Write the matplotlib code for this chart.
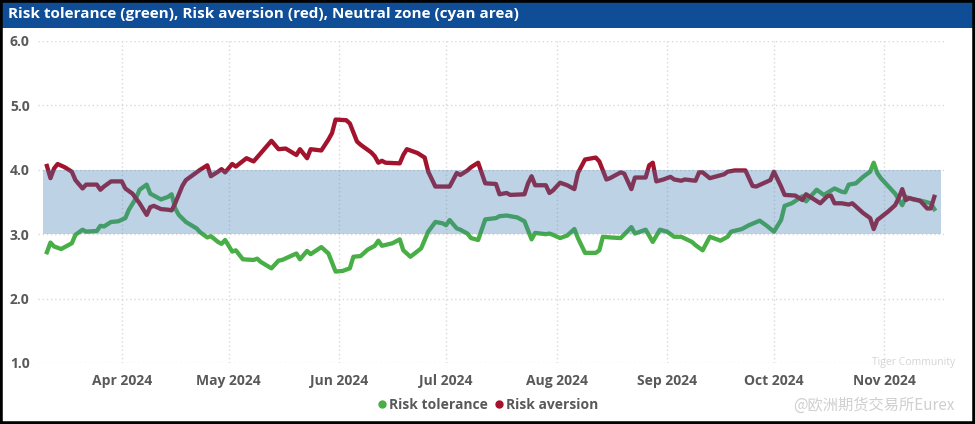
import matplotlib.pyplot as plt
import matplotlib.dates as mdates
from matplotlib.lines import Line2D
from matplotlib.patches import Rectangle
import pandas as pd

# risk tolerance (green line)
tol_dates = ["2024-03-11", "2024-03-12", "2024-03-13", "2024-03-15", "2024-03-18", "2024-03-19",
             "2024-03-21", "2024-03-22", "2024-03-25", "2024-03-26", "2024-03-27", "2024-03-29",
             "2024-03-31", "2024-04-02", "2024-04-03", "2024-04-05", "2024-04-06", "2024-04-08",
             "2024-04-09", "2024-04-12", "2024-04-14", "2024-04-15", "2024-04-16", "2024-04-17",
             "2024-04-19", "2024-04-22", "2024-04-23", "2024-04-25", "2024-04-26", "2024-04-28",
             "2024-04-29", "2024-04-30", "2024-05-02", "2024-05-03", "2024-05-05", "2024-05-08",
             "2024-05-09", "2024-05-10", "2024-05-13", "2024-05-15", "2024-05-16", "2024-05-20",
             "2024-05-21", "2024-05-23", "2024-05-24", "2024-05-27", "2024-05-29", "2024-05-31",
             "2024-06-02", "2024-06-04", "2024-06-05", "2024-06-07", "2024-06-09", "2024-06-11",
             "2024-06-12", "2024-06-13", "2024-06-16", "2024-06-18", "2024-06-19", "2024-06-21",
             "2024-06-24", "2024-06-26", "2024-06-28", "2024-06-30", "2024-07-01", "2024-07-02",
             "2024-07-04", "2024-07-05", "2024-07-07", "2024-07-08", "2024-07-10", "2024-07-12",
             "2024-07-15", "2024-07-16", "2024-07-18", "2024-07-19", "2024-07-21", "2024-07-23",
             "2024-07-24", "2024-07-25", "2024-07-26", "2024-07-29", "2024-07-30", "2024-07-31",
             "2024-08-02", "2024-08-04", "2024-08-06", "2024-08-07", "2024-08-09", "2024-08-12",
             "2024-08-13", "2024-08-14", "2024-08-16", "2024-08-19", "2024-08-22", "2024-08-23",
             "2024-08-26", "2024-08-28", "2024-08-30", "2024-09-01", "2024-09-03", "2024-09-05",
             "2024-09-08", "2024-09-09", "2024-09-11", "2024-09-13", "2024-09-16", "2024-09-18",
             "2024-09-19", "2024-09-22", "2024-09-24", "2024-09-27", "2024-09-29", "2024-10-01",
             "2024-10-03", "2024-10-04", "2024-10-06", "2024-10-09", "2024-10-10", "2024-10-13",
             "2024-10-15", "2024-10-18", "2024-10-20", "2024-10-21", "2024-10-22", "2024-10-24",
             "2024-10-26", "2024-10-28", "2024-10-29", "2024-10-30", "2024-10-31", "2024-11-04",
             "2024-11-06", "2024-11-07", "2024-11-09", "2024-11-12", "2024-11-14", "2024-11-15"]
tol_values = [2.72, 2.87, 2.81, 2.77, 2.86, 2.99,
              3.07, 3.04, 3.05, 3.13, 3.12, 3.19,
              3.20, 3.25, 3.38, 3.56, 3.69, 3.77,
              3.63, 3.54, 3.58, 3.62, 3.40, 3.30,
              3.19, 3.09, 3.03, 2.95, 2.97, 2.88,
              2.85, 2.91, 2.73, 2.75, 2.61, 2.60,
              2.62, 2.57, 2.47, 2.59, 2.60, 2.70,
              2.61, 2.74, 2.69, 2.80, 2.70, 2.42,
              2.43, 2.47, 2.65, 2.66, 2.76, 2.82,
              2.90, 2.82, 2.86, 2.92, 2.75, 2.65,
              2.78, 3.04, 3.19, 3.17, 3.14, 3.22,
              3.09, 3.07, 3.01, 2.94, 2.91, 3.23,
              3.25, 3.28, 3.29, 3.28, 3.26, 3.20,
              3.06, 2.92, 3.02, 3.00, 3.01, 2.99,
              2.94, 2.98, 3.08, 2.94, 2.71, 2.71,
              2.75, 2.96, 2.95, 2.94, 3.11, 3.01,
              3.07, 2.88, 3.07, 3.04, 2.96, 2.96,
              2.88, 2.83, 2.75, 2.96, 2.90, 2.96,
              3.04, 3.08, 3.14, 3.21, 3.13, 3.04,
              3.22, 3.44, 3.48, 3.59, 3.51, 3.69,
              3.61, 3.71, 3.66, 3.65, 3.77, 3.79,
              3.89, 3.97, 4.11, 3.95, 3.87, 3.63,
              3.45, 3.58, 3.54, 3.51, 3.48, 3.39]

# risk aversion (red line)
avr_dates = ["2024-03-11", "2024-03-12", "2024-03-13", "2024-03-14", "2024-03-16", "2024-03-18",
             "2024-03-19", "2024-03-21", "2024-03-22", "2024-03-25", "2024-03-26", "2024-03-27",
             "2024-03-29", "2024-04-01", "2024-04-02", "2024-04-04", "2024-04-06", "2024-04-08",
             "2024-04-09", "2024-04-10", "2024-04-12", "2024-04-14", "2024-04-15", "2024-04-16",
             "2024-04-18", "2024-04-19", "2024-04-23", "2024-04-25", "2024-04-26", "2024-04-28",
             "2024-04-29", "2024-04-30", "2024-05-02", "2024-05-03", "2024-05-06", "2024-05-08",
             "2024-05-13", "2024-05-15", "2024-05-17", "2024-05-20", "2024-05-21", "2024-05-23",
             "2024-05-24", "2024-05-27", "2024-05-29", "2024-05-30", "2024-05-31", "2024-06-03",
             "2024-06-04", "2024-06-06", "2024-06-07", "2024-06-09", "2024-06-10", "2024-06-11",
             "2024-06-12", "2024-06-13", "2024-06-14", "2024-06-18", "2024-06-19", "2024-06-20",
             "2024-06-23", "2024-06-25", "2024-06-26", "2024-06-28", "2024-07-02", "2024-07-04",
             "2024-07-05", "2024-07-07", "2024-07-08", "2024-07-10", "2024-07-12", "2024-07-15",
             "2024-07-16", "2024-07-18", "2024-07-19", "2024-07-23", "2024-07-24", "2024-07-25",
             "2024-07-26", "2024-07-29", "2024-07-30", "2024-07-31", "2024-08-02", "2024-08-04",
             "2024-08-06", "2024-08-07", "2024-08-09", "2024-08-12", "2024-08-13", "2024-08-15",
             "2024-08-16", "2024-08-19", "2024-08-20", "2024-08-22", "2024-08-23", "2024-08-26",
             "2024-08-27", "2024-08-28", "2024-08-29", "2024-08-31", "2024-09-02", "2024-09-03",
             "2024-09-05", "2024-09-06", "2024-09-09", "2024-09-10", "2024-09-11", "2024-09-13",
             "2024-09-17", "2024-09-18", "2024-09-20", "2024-09-23", "2024-09-25", "2024-09-26",
             "2024-09-30", "2024-10-01", "2024-10-03", "2024-10-04", "2024-10-07", "2024-10-09",
             "2024-10-10", "2024-10-14", "2024-10-16", "2024-10-17", "2024-10-18", "2024-10-20",
             "2024-10-22", "2024-10-23", "2024-10-24", "2024-10-26", "2024-10-28", "2024-10-29",
             "2024-10-30", "2024-11-02", "2024-11-04", "2024-11-05", "2024-11-06", "2024-11-07",
             "2024-11-08", "2024-11-11", "2024-11-13", "2024-11-14", "2024-11-15"]
avr_values = [4.06, 3.87, 4.02, 4.09, 4.04, 3.97,
              3.84, 3.71, 3.77, 3.77, 3.69, 3.74,
              3.82, 3.82, 3.71, 3.63, 3.48, 3.30,
              3.42, 3.44, 3.39, 3.38, 3.37, 3.48,
              3.75, 3.84, 4.00, 4.07, 3.90, 3.97,
              4.01, 3.96, 4.09, 4.05, 4.18, 4.13,
              4.45, 4.32, 4.33, 4.23, 4.32, 4.18,
              4.32, 4.30, 4.47, 4.57, 4.78, 4.77,
              4.72, 4.44, 4.39, 4.31, 4.27, 4.21,
              4.11, 4.14, 4.11, 4.10, 4.23, 4.32,
              4.26, 4.19, 3.97, 3.74, 3.74, 3.95,
              3.92, 3.99, 4.04, 4.11, 3.79, 3.78,
              3.62, 3.64, 3.61, 3.62, 3.79, 3.90,
              3.76, 3.76, 3.64, 3.68, 3.80, 3.76,
              3.70, 3.95, 4.16, 4.19, 4.13, 3.85,
              3.87, 3.96, 3.94, 3.70, 3.88, 3.88,
              4.07, 4.11, 3.82, 3.85, 3.89, 3.85,
              3.83, 3.85, 3.83, 3.96, 3.96, 3.87,
              3.93, 3.97, 3.99, 3.99, 3.75, 3.74,
              3.84, 3.97, 3.74, 3.61, 3.60, 3.53,
              3.62, 3.48, 3.59, 3.60, 3.48, 3.48,
              3.46, 3.48, 3.43, 3.33, 3.25, 3.08,
              3.22, 3.35, 3.45, 3.56, 3.70, 3.53,
              3.56, 3.52, 3.40, 3.40, 3.58]

# neutral zone
zone_start, zone_end = "2024-03-10", "2024-11-17"
zone_low, zone_high = 3.0, 4.0

title = "Risk tolerance (green), Risk aversion (red), Neutral zone (cyan area)"
green = "#48AE46"
red = "#A3132D"
grey_txt = "#595959"

tol_x = pd.to_datetime(tol_dates)
avr_x = pd.to_datetime(avr_dates)

fig = plt.figure(figsize=(9.75, 4.24), dpi=100)
ax = fig.add_axes([38 / 975, 61 / 424, 907 / 975, 322 / 424])

ax.plot(tol_x, tol_values, color=green, linewidth=3.1, solid_joinstyle="round", zorder=2)
ax.plot(avr_x, avr_values, color=red, linewidth=3.1, solid_joinstyle="round", zorder=2)
# the zone sits over the lines, so they look darker inside it
ax.fill_between(pd.to_datetime([zone_start, zone_end]), zone_low, zone_high,
                color="#3F7CB0", alpha=0.34, linewidth=0, zorder=3)

ax.set_ylim(1, 6)
ax.set_xlim(pd.Timestamp("2024-03-08 12:00"), pd.Timestamp("2024-11-18"))
ax.set_yticks([1, 2, 3, 4, 5, 6])
ax.set_yticklabels(["1.0", "2.0", "3.0", "4.0", "5.0", "6.0"])
ax.xaxis.set_major_locator(mdates.MonthLocator(bymonth=range(4, 12)))
ax.xaxis.set_major_formatter(mdates.DateFormatter("%b %Y"))
ax.grid(True, color="#D9D9D9", linestyle=(0, (1, 2)), linewidth=1)
ax.set_axisbelow(True)
for s in ax.spines.values():
    s.set_visible(False)
ax.tick_params(length=0, labelsize=10, labelcolor=grey_txt)
ax.tick_params(axis="y", pad=6)
ax.tick_params(axis="x", pad=8)
for lab in ax.get_xticklabels() + ax.get_yticklabels():
    lab.set_fontweight("bold")
    lab.set_fontfamily("Open Sans")

# title bar
fig.patches.append(Rectangle((0, 396 / 424), 1, 28 / 424, transform=fig.transFigure,
                             facecolor="#0F4E97", edgecolor="none", zorder=0))
fig.text(8 / 975, 410 / 424, title, color="white", fontsize=11, fontweight="bold",
         family="Open Sans", va="center", ha="left")

# legend
handles = [Line2D([], [], linestyle="none", marker="o", markersize=5, color=green),
           Line2D([], [], linestyle="none", marker="o", markersize=5, color=red)]
leg = fig.legend(handles, ["Risk tolerance", "Risk aversion"], loc="center",
                 bbox_to_anchor=(0.5, 19 / 424), ncol=2, frameon=False,
                 handletextpad=0.1, columnspacing=0.4, handlelength=0.8,
                 prop={"family": "Open Sans", "weight": "bold", "size": 10})
for t in leg.get_texts():
    t.set_color(grey_txt)

# watermark
fig.text(955 / 975, 19 / 424, "@欧洲期货交易所Eurex", color="#CFCFCF", fontsize=11,
         family=["Noto Sans CJK SC", "DejaVu Sans"], ha="right", va="center")
fig.text(955 / 975, 62 / 424, "Tiger Community", color="#D5D5D5", fontsize=7.5,
         family="Open Sans", ha="right", va="center")

# black frame
fig.patches.append(Rectangle((0, 0), 1, 1, transform=fig.transFigure, facecolor="none",
                             edgecolor="black", linewidth=4, zorder=10))

fig.savefig("out.png", dpi=100)
